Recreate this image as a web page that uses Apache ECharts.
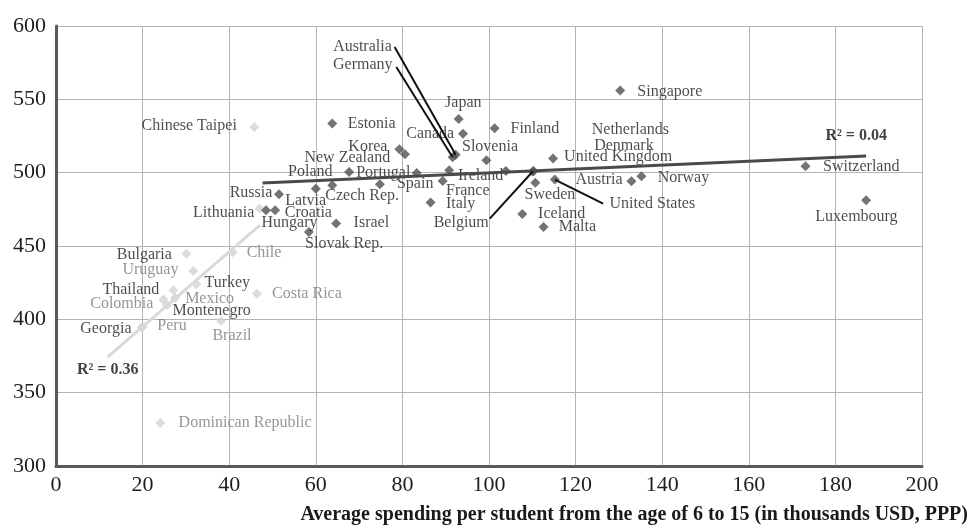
<!DOCTYPE html>
<html><head><meta charset="utf-8">
<script src="https://cdn.jsdelivr.net/npm/echarts@6/dist/echarts.min.js"></script>
<style>html,body{margin:0;padding:0;background:#fff}#c{width:971px;height:525px}</style>
</head><body><div id="c"></div>
<script>
// ---------------- DATA ----------------
// Group A (dark markers)
const darkNames = ['Singapore','Japan','Estonia','Finland','Canada','Korea','New Zealand','Australia','Germany','Slovenia',
  'United Kingdom','Netherlands','Denmark','Belgium','Ireland','France','Portugal','Poland','Spain','Czech Rep.',
  'Latvia','Sweden','United States','Italy','Iceland','Malta','Israel','Slovak Rep.','Russia','Hungary',
  'Croatia','Switzerland','Luxembourg','Norway','Austria'];
const darkSpending = [130.3,93.0,63.8,101.3,94.0,79.3,80.6,92.3,91.6,99.4,
  114.8,103.9,110.3,110.1,90.8,89.3,83.3,67.7,74.8,63.8,
  60.0,110.7,115.2,86.5,107.7,112.6,64.7,58.4,51.5,48.5,
  50.6,173.1,187.1,135.2,132.9];
const darkScores = [556.0,536.6,533.5,530.3,526.6,515.9,512.5,512.2,510.5,508.4,
  509.6,501.1,501.1,500.8,501.6,494.3,499.8,500.5,492.1,491.4,
  489.1,493.1,495.3,479.6,471.8,463.0,465.3,459.5,485.3,474.3,
  474.3,504.3,481.2,497.5,494.1];
// Group B (light markers)
const lightNames = ['Chinese Taipei','Lithuania','Bulgaria','Chile','Uruguay','Turkey','Thailand','Costa Rica',
  'Colombia','Mexico','Montenegro','Peru','Georgia','Brazil','Dominican Republic'];
const lightSpending = [45.8,47.0,30.1,40.8,31.7,32.4,27.1,46.4,24.8,27.5,25.6,19.8,20.0,38.1,24.1];
const lightScores = [531.1,475.5,444.8,445.7,433.0,423.9,419.8,417.5,413.5,414.5,409.6,394.4,395.0,398.9,329.3];
const grayLabelNames = ['Chile','Uruguay','Costa Rica','Colombia','Mexico','Peru','Brazil','Dominican Republic'];
// Trend lines (end points of fitted lines)
const trendDarkX = [47.7, 187.1];
const trendDarkY = [493.0, 511.4];
const trendLightX = [11.9, 47.1];
const trendLightY = [374.3, 464.2];
const r2Dark = 'R² = 0.04';
const r2Light = 'R² = 0.36';
const xTicks = [0,20,40,60,80,100,120,140,160,180,200];
const yTicks = [300,350,400,450,500,550,600];
const xTitle = 'Average spending per student from the age of 6 to 15 (in thousands USD, PPP)';

// ---------------- LAYOUT (pixel offsets of labels from their marker) ----------------
const labelOffsets = {
  'Singapore':[49.6,1.4],'Japan':[4.6,-16],'Estonia':[39.4,0],'Finland':[40.3,1],'Canada':[-32.8,0],
  'Korea':[-31.5,-3],'New Zealand':[-57.7,3.7],'Australia':[-93.2,-107.8],'Germany':[-89.8,-92],
  'Slovenia':[3.6,-13.3],'United Kingdom':[65,-1.6],'Netherlands':[124.5,-41.7],'Denmark':[90.3,-25.7],
  'Belgium':[-71.5,51.5],'Ireland':[31.5,5.7],'France':[25.1,9.3],'Portugal':[-33.4,-0.4],'Poland':[-38.8,0],
  'Spain':[35.3,0],'Czech Rep.':[29.9,10.7],'Latvia':[-10.2,11.7],'Sweden':[14.6,11.8],'United States':[97.5,24.7],
  'Italy':[30,1],'Iceland':[39.3,-0.4],'Malta':[33.8,0],'Israel':[35.2,-0.6],'Slovak Rep.':[35.3,11.6],
  'Russia':[-28,-1.3],'Hungary':[23.5,12.3],'Croatia':[33.3,2.3],'Switzerland':[55.7,0.7],
  'Luxembourg':[-9.7,16.7],'Norway':[42,1.3],'Austria':[-32.5,-2],
  'Chinese Taipei':[-65.1,-1],'Lithuania':[-35.8,3.7],'Bulgaria':[-42,0.7],'Chile':[31.3,0.7],
  'Uruguay':[-42.8,-0.7],'Turkey':[31,-1.3],'Thailand':[-42.5,0],'Costa Rica':[50,0],'Colombia':[-41.6,4],
  'Mexico':[34.5,0.6],'Montenegro':[44.8,5.7],'Peru':[30.3,-1.6],'Georgia':[-36.7,1.8],'Brazil':[11,15.3],
  'Dominican Republic':[84.7,0]
};
const leaderNames = ['Australia','Germany','Belgium','United States'];
const leaderOffsets = {'Australia':[-61,-107.8],'Germany':[-56.3,-90.3],'Belgium':[-43,47.1],'United States':[48.3,24]};
const r2Offsets = {dark:[-10,-19.7], light:[0.2,13.3]};

const FONT = '"Liberation Serif", "Times New Roman", serif';
const DARK = '#505050', LIGHT = '#d3d3d3', TXT = '#1e1e1e', GTXT = '#7a7a7a';

function pointItems(names, xs, ys, grayList) {
  return names.map((n, i) => ({
    name: n,
    value: [xs[i], ys[i]],
    label: {
      show: true, formatter: n, position: 'inside', offset: labelOffsets[n],
      color: grayList && grayList.includes(n) ? GTXT : TXT
    }
  }));
}

const chart = echarts.init(document.getElementById('c'), null, {renderer: 'canvas'});
const leaderData = leaderNames.map(n => {
  const i = darkNames.indexOf(n);
  return [darkSpending[i], darkScores[i], i];
});

chart.setOption({
  animation: false,
  backgroundColor: '#fff',
  grid: {left: 56, right: 49, top: 26, bottom: 59, containLabel: false},
  xAxis: {
    type: 'value', min: xTicks[0], max: xTicks[xTicks.length - 1], interval: xTicks[1] - xTicks[0],
    axisLine: {show: true, onZero: false, lineStyle: {color: '#5a5a5a', width: 3}},
    axisTick: {show: false},
    splitLine: {show: true, lineStyle: {color: '#b4b4b4', width: 1}},
    axisLabel: {fontFamily: FONT, fontSize: 22, color: '#1e1e1e', margin: 8}
  },
  yAxis: {
    type: 'value', min: yTicks[0], max: yTicks[yTicks.length - 1], interval: yTicks[1] - yTicks[0],
    axisLine: {show: true, onZero: false, lineStyle: {color: '#5a5a5a', width: 3}},
    axisTick: {show: false},
    splitLine: {show: true, lineStyle: {color: '#b4b4b4', width: 1}},
    axisLabel: {fontFamily: FONT, fontSize: 22, color: '#1e1e1e', margin: 10}
  },
  graphic: [{
    type: 'text', right: 3, top: 505,
    style: {text: xTitle, font: 'bold 20px ' + FONT, fill: '#1a1a1a'}
  }],
  series: [
    {
      type: 'scatter', name: 'light', symbol: 'diamond', symbolSize: 10, z: 2,
      itemStyle: {color: LIGHT},
      label: {fontFamily: FONT, fontSize: 16},
      data: pointItems(lightNames, lightSpending, lightScores, grayLabelNames)
    },
    {
      type: 'line', name: 'trendLight', z: 3, symbol: 'none', silent: true,
      lineStyle: {color: '#d9d9d9', width: 3},
      data: trendLightX.map((x, i) => [x, trendLightY[i]])
    },
    {
      type: 'scatter', name: 'dark', symbol: 'diamond', symbolSize: 10, z: 4,
      itemStyle: {color: DARK},
      label: {fontFamily: FONT, fontSize: 16},
      data: pointItems(darkNames, darkSpending, darkScores, null)
    },
    {
      type: 'line', name: 'trendDark', z: 5, symbol: 'none', silent: true,
      lineStyle: {color: '#4a4a4a', width: 3},
      data: trendDarkX.map((x, i) => [x, trendDarkY[i]])
    },
    {
      type: 'custom', name: 'leaders', z: 6, silent: true,
      data: leaderData,
      renderItem: function (params, api) {
        const p = api.coord([api.value(0), api.value(1)]);
        const off = leaderOffsets[leaderNames[params.dataIndex]];
        return {type: 'line', shape: {x1: p[0], y1: p[1], x2: p[0] + off[0], y2: p[1] + off[1]},
          style: {stroke: '#111', lineWidth: 2}};
      }
    },
    {
      type: 'scatter', name: 'r2', symbolSize: 1, z: 7, silent: true,
      itemStyle: {color: 'rgba(0,0,0,0)'},
      label: {show: true, position: 'inside', fontFamily: FONT, fontSize: 16, fontWeight: 'bold', color: '#111'},
      data: [
        {value: [trendDarkX[1], trendDarkY[1]], label: {formatter: r2Dark, offset: r2Offsets.dark}},
        {value: [trendLightX[0], trendLightY[0]], label: {formatter: r2Light, offset: r2Offsets.light}}
      ]
    }
  ]
});
</script>
</body></html>
